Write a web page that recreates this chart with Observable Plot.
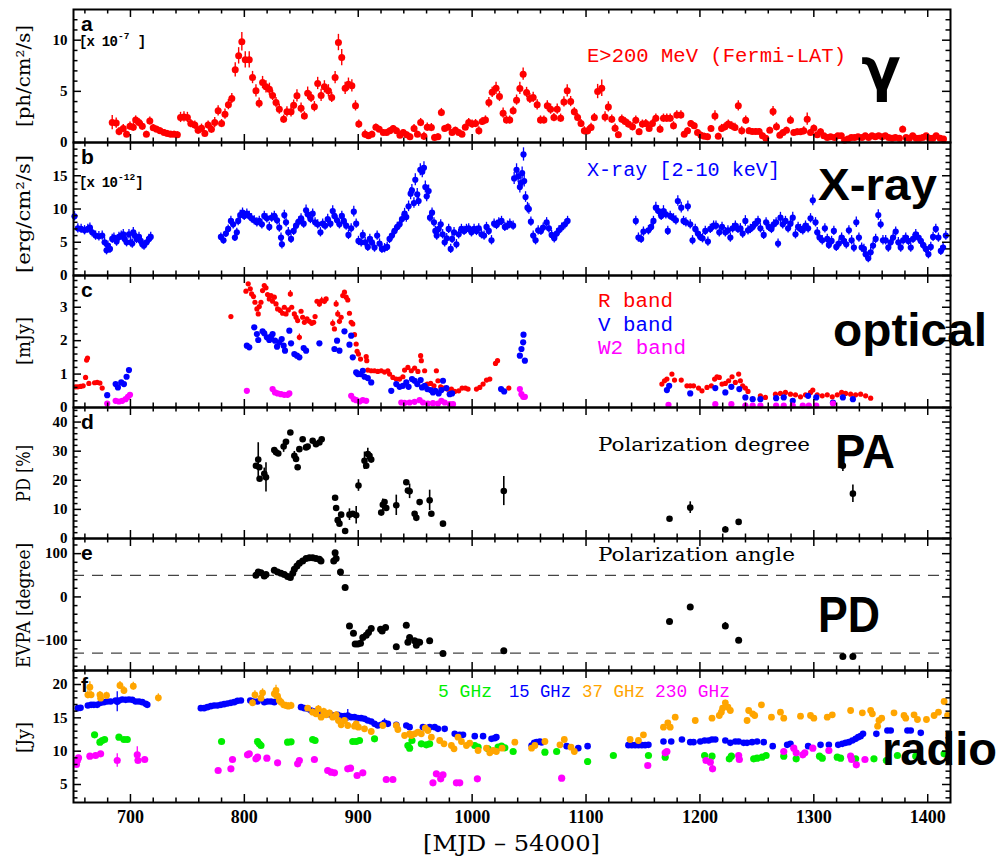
<!DOCTYPE html>
<html>
<head>
<meta charset="utf-8">
<script src="https://cdn.jsdelivr.net/npm/d3@7"></script>
<script src="https://cdn.jsdelivr.net/npm/@observablehq/plot@0.6"></script>
<style>
  html, body { margin: 0; padding: 0; background: #fff; }
  #page { position: relative; width: 999px; height: 857px; overflow: hidden; background: #fff; }
  #page svg.panel { position: absolute; left: 0; overflow: visible; }
  #labels { position: absolute; left: 0; top: 0; pointer-events: none; overflow: visible; }
</style>
</head>
<body>
<div id="page"></div>
<script>
// ---------------------------------------------------------------------------
// Multiwavelength light curves, MJD - 54000.  Each entry: [day, value, error]
// ---------------------------------------------------------------------------

// (a) Fermi-LAT E>200 MeV flux, 1e-7 ph/cm2/s
const gamma = [
  [684,1.95,.7],[687.5,1.9,.5],[690,1.07,.4],[693.7,1.37,.4],[696.6,.8,.3],[699.6,1.6,.4],[702.5,1.5,.4],[704.6,2.2,.4],
  [707.5,1.95,.4],[710.4,1.6,.4],[714,.8,.3],[717,2.1,.4],[720,1.45,.3],[723,1.3,.3],[726,1.15,.3],[729.5,.98,.3],
  [732.4,.88,.3],[735.4,.8,.3],[738.3,.8,.3],[741.2,.75,.3],[744,2.45,.5],[747,2.5,.5],[750,2.45,.5],[753,1.85,.4],
  [756.5,1.7,.4],[759.4,1.2,.4],[762.4,1.4,.4],[765.3,.88,.3],[768.2,1.7,.4],[771.1,1.3,.4],[774,1.95,.5],[777,3.1,.5],
  [780,1.85,.4],[783,2.77,.5],[786,3.7,.5],[789,4.3,.5],[792,7.1,.7],[795,8.47,.8],[797.8,9.84,.9],[800.8,8.08,.8],
  [804.3,8.08,.8],[807.2,6.35,.6],[810.2,5.05,.6],[813,3.84,.5],[816,5.86,.6],[819,5.44,.6],[822,5.2,.6],[824.8,4.6,.5],
  [827.8,3.9,.5],[830.7,3.26,.5],[834.5,2.28,.4],[837.4,3.0,.5],[841,3.0,.5],[843.3,3.65,.5],[846.2,4.56,.6],[849.8,3.35,.5],
  [852.7,2.6,.4],[855.6,4.82,.6],[858.6,4.4,.5],[861.5,3.5,.5],[864.4,5.77,.6],[867.4,4.6,.6],[870.3,5.44,.6],[873.8,5.05,.6],
  [876.7,4.4,.5],[879.7,6.35,.6],[882.6,9.77,.8],[885.5,8.3,.8],[888.5,5.3,.6],[891.4,5.7,.6],[894.4,5.54,.6],[897.6,3.58,.5],
  [900.5,1.8,.4],[906,.81,.4],[909,.65,.3],[912,.81,.3],[915.5,1.5,.3],[918.4,1.3,.3],[922,.98,.3],[924.9,.98,.3],
  [927.8,1.14,.3],[930.7,1.37,.3],[933.6,1.14,.3],[936.6,.72,.3],[939.5,.98,.3],[942.5,.75,.3],[945.4,.55,.3],[949,1.37,.4],
  [952,.81,.3],[954.8,1.95,.4],[957.7,.6,.4],[960.6,1.5,.4],[964.2,1.46,.4],[967,.49,.3],[970,.55,.3],[973,2.93,.4],
  [975.9,1.37,.3],[978.8,1.5,.3],[982.4,.98,.3],[985.3,1.2,.3],[988.2,.98,.3],[991.1,.81,.3],[994,1.5,.3],[997,1.95,.4],
  [1000,1.8,.4],[1003,1.85,.4],[1005.9,1.14,.4],[1008.8,2.05,.4],[1011.7,2.2,.4],[1014.7,3.9,.5],[1017.6,4.9,.5],[1021,5.3,.6],
  [1024,4.5,.5],[1027.2,2.87,.5],[1030.1,2.2,.4],[1033,2.2,.4],[1036,3.1,.4],[1039,4.14,.5],[1041.9,5.28,.6],[1044.8,6.68,.6],
  [1047.8,4.89,.5],[1050.7,4.3,.5],[1053.6,4.4,.5],[1057.1,3.68,.5],[1060,2.2,.4],[1063,2.2,.4],[1066,3.58,.5],[1068.9,3.26,.5],
  [1071.8,2.44,.4],[1074.7,3.26,.5],[1077.7,2.38,.4],[1080.6,3.97,.5],[1083.5,5.05,.6],[1086.5,4.0,.5],[1089.7,3.0,.4],[1092.6,2.44,.4],
  [1095.6,1.86,.4],[1098.5,1.14,.4],[1101.4,1.14,.4],[1104.4,1.47,.4],[1107.3,2.44,.4],[1110.2,4.98,.7],[1113.8,5.3,.8],[1116.7,2.5,.5],
  [1119.6,3.48,.5],[1122.6,2.28,.4],[1125.5,1.4,.4],[1128.4,.75,.3],[1131.4,2.28,.4],[1134.3,2.05,.4],[1137.2,1.8,.4],[1140.8,1.53,.4],
  [1143.7,2.18,.4],[1146.6,1.04,.3],[1149.5,1.8,.4],[1152.5,1.86,.4],[1155.4,1.37,.3],[1158.3,1.86,.4],[1161.3,2.38,.4],[1165,1.3,.4],
  [1168,2.38,.4],[1170.9,2.38,.4],[1173.9,2.38,.4],[1176.8,1.63,.4],[1179.7,2.7,.4],[1183.3,2.7,.4],[1186.2,.81,.3],[1189.1,1.14,.3],
  [1192,1.86,.3],[1195,1.63,.3],[1197.9,.98,.3],[1200.9,.72,.3],[1203.8,.6,.3],[1206.7,.55,.3],[1209.7,1.37,.3],[1213.2,2.6,.5],
  [1216.1,.6,.3],[1219,1.37,.4],[1222,1.53,.4],[1224.9,1.8,.4],[1227.9,1.63,.4],[1230.8,1.47,.4],[1233.7,3.58,.5],[1236.7,1.14,.4],
  [1240.2,2.18,.4],[1243.1,1.14,.3],[1246,1.07,.3],[1249,1.07,.3],[1252,1.07,.3],[1254.9,.65,.3],[1257.8,.42,.2],[1261.3,1.2,.3],
  [1264.2,3.03,.5],[1267.2,1.53,.4],[1270.1,.72,.3],[1273,.98,.3],[1276,1.2,.3],[1279.5,2.18,.4],[1282.4,.98,.3],[1285.4,1.04,.3],
  [1288.3,1.04,.3],[1291.2,1.14,.4],[1294.2,2.28,.6],[1297.1,.98,.3],[1300,1.4,.3],[1303,.75,.2],[1305.9,1.04,.3],[1308.8,.65,.2],
  [1311.8,.49,.2],[1314.7,.55,.2],[1318.2,.49,.2],[1321.1,.65,.2],[1324.1,.65,.2],[1327,.23,.2],[1329.9,.33,.2],[1332.9,.49,.2],
  [1335.8,.49,.2],[1338.8,.55,.2],[1342.3,.49,.2],[1345.2,.65,.2],[1348.1,.49,.2],[1351.1,.65,.2],[1354,.55,.2],[1356.9,.65,.2],
  [1359.9,.55,.2],[1362.8,.65,.2],[1365.7,.49,.2],[1368.7,.42,.2],[1371.6,.49,.2],[1375.1,.42,.2],[1378,1.3,.3],[1381,.49,.2],
  [1383.9,.42,.2],[1386.8,.65,.2],[1389.8,.42,.2],[1392.7,.42,.2],[1395.6,.49,.2],[1398.6,.65,.2],[1401.5,.42,.2],[1404.5,.42,.2],
  [1407.4,.65,.2],[1410.9,.42,.2],[1413.9,.33,.2]
];

// (b) X-ray 2-10 keV flux, 1e-12 erg/cm2/s
const xray = [
  [650.9,8.9,.7],[653.8,7.1,.7],[656.7,7.0,.7],[659.7,6.8,.7],[662.6,7.0,.7],[664.4,7.2,.7],[666.4,6.5,.7],[669.4,6.0,.7],
  [672.3,5.9,.7],[675.2,6.0,.7],[677.3,5.0,.7],[679.0,3.8,.7],[680.2,4.5,.7],[682.0,4.0,.7],[684.0,5.5,.7],[685.5,5.7,.7],
  [687.8,5.1,.7],[689.9,5.8,.7],[691.9,6.0,.7],[693.7,6.2,.7],[694.9,5.5,.7],[696.6,5.0,.7],[698.7,6.2,.7],[700.2,5.0,.7],
  [701.6,4.8,.7],[702.5,6.5,.7],[703.7,6.0,.7],[705.4,5.5,.7],[707.5,5.8,.7],[709.0,5.2,.7],[710.4,4.7,.7],[711.9,4.5,.7],
  [714.2,5.0,.7],[716.3,5.5,.7],[717.8,5.8,.7],
  [779.4,5.8,.6],[781.7,5.3,.6],[783.8,6.3,.6],[785.8,7.0,.6],[788.2,8.2,.7],[790.2,7.7,.7],[791.7,5.7,.6],[793.4,6.5,.6],
  [794.6,8.2,.7],[796.4,9.1,.7],[798.4,9.45,.7],[799.9,8.96,.7],[802.2,9.3,.7],[804.3,8.96,.7],[806.3,8.6,.7],[808.7,8.3,.7],
  [811.0,8.0,.7],[813.1,8.2,.7],[815.4,7.7,.7],[817.5,8.96,.7],[819.8,8.6,.7],[821.9,7.3,.7],[824.0,8.7,.7],[826.3,8.96,.7],
  [828.7,8.3,.7],[830.7,7.2,.7],[832.2,5.7,.7],[833.0,4.7,.7],[835.1,9.1,.7],[836.6,8.0,.7],[838.6,6.5,.7],[841.0,5.5,.7],
  [843.3,6.7,.7],[845.4,7.5,.7],[847.7,8.1,.7],[849.8,8.6,.7],[852.1,7.8,.7],[854.2,9.8,.8],[855.6,9.2,.7],[858.0,8.5,.7],
  [860.0,9.3,.7],[862.1,8.0,.7],[864.4,7.7,.7],[866.8,6.5,.7],[868.8,7.8,.7],[870.9,7.5,.7],[873.2,8.5,.7],[875.6,7.8,.7],
  [877.6,9.7,.8],[879.1,8.96,.7],[881.4,8.3,.7],[883.5,7.7,.7],[885.6,8.96,.7],[887.3,8.2,.7],[889.4,7.5,.7],[891.4,6.1,.7],
  [893.8,7.1,.7],[896.1,9.6,.8],[898.2,7.8,.7],[900.2,5.2,.7],[902.6,5.0,.7],[904.0,6.1,.7],[906.1,5.0,.7],[908.4,4.3,.7],
  [910.2,5.5,.7],[912.0,5.0,.7],[914.3,4.2,.7],[916.6,6.0,.7],[918.7,4.8,.7],[920.8,4.0,.7],[923.1,4.1,.7],[925.4,4.3,.7],
  [927.5,5.5,.7],[929.6,6.0,.7],[931.9,6.7,.7],[934.3,7.3,.7],[936.3,7.7,.7],[938.4,8.5,.7],[940.7,9.3,.8],[942.2,8.8,.8],
  [944.2,10.4,.8],[946.0,12.3,.9],[947.1,12.8,.9],[948.9,10.9,.8],[950.1,14.4,.9],[951.8,12.2,.9],[953.0,11.2,.8],[954.5,15.9,.9],
  [956.2,15.6,.9],[957.7,16.2,.9],[958.9,13.3,.9],[960.1,11.9,.8],[961.8,12.7,.9],[963.0,8.7,.7],[964.8,9.45,.7],[966.5,8.0,.7],
  [967.7,6.7,.7],[968.9,6.0,.7],[970.6,7.0,.7],[972.4,7.7,.7],[974.1,6.2,.7],[975.9,5.0,.7],[977.7,5.6,.7],[979.4,7.0,.7],
  [981.2,4.0,.7],[982.4,5.5,.7],[984.1,6.5,.7],[986.2,4.7,.7],[988.2,6.2,.7],[990.6,7.0,.7],[992.9,6.7,.7],[995.0,7.0,.7],
  [997.0,7.1,.7],[999.4,6.5,.7],[1001.7,7.0,.7],[1003.8,6.7,.7],[1005.8,7.1,.7],[1008.2,6.2,.7],[1010.5,6.0,.7],[1012.6,7.3,.7],
  [1014.6,6.7,.7],[1017.0,5.3,.7],[1019.3,7.8,.7],[1021.4,7.6,.7],[1023.4,8.0,.7],[1025.8,8.2,.7],[1028.7,7.3,.7],[1031.0,7.5,.7],
  [1033.1,7.8,.7],[1036.0,7.5,.7],[1036.9,14.6,.9],[1039.0,15.9,.9],[1040.4,14.9,.9],[1041.9,13.3,.9],[1042.8,13.9,.9],[1043.9,15.4,.9],
  [1045.1,18.2,1.0],[1045.7,14.2,.9],[1046.9,11.8,.8],[1048.6,10.2,.8],[1049.8,10.0,.8],[1051.6,8.1,.7],[1053.6,6.0,.7],[1055.7,5.3,.7],
  [1058.0,6.8,.7],[1060.4,6.7,.7],[1062.4,7.2,.7],[1065.4,8.0,.7],[1067.4,7.1,.7],[1069.8,6.1,.7],[1072.1,5.6,.7],[1074.2,6.3,.7],
  [1076.2,6.8,.7],[1078.6,7.2,.7],[1081.5,7.7,.7],[1083.8,8.2,.7],
  [1143.7,8.2,.7],[1146.0,5.7,.7],[1148.4,5.5,.7],[1150.4,6.6,.7],[1154.8,6.8,.7],[1157.2,7.3,.7],[1159.2,8.2,.7],[1161.3,10.2,.8],
  [1163.6,9.7,.8],[1166.0,8.96,.7],[1168.0,9.7,.8],[1170.1,9.2,.7],[1171.8,6.7,.7],[1173.9,8.96,.7],[1176.8,8.6,.7],[1178.9,8.3,.7],
  [1180.6,11.2,.8],[1183.6,10.2,.8],[1185.6,8.2,.7],[1187.7,8.0,.7],[1189.4,10.4,.8],[1191.5,7.7,.7],[1193.5,5.3,.7],[1195.9,7.0,.7],
  [1198.2,6.3,.7],[1200.3,5.8,.7],[1202.3,5.6,.7],[1204.7,6.7,.7],[1207.0,5.1,.7],[1209.1,7.0,.7],[1212.0,7.5,.7],[1214.1,7.5,.7],
  [1217.0,6.5,.7],[1219.4,7.3,.7],[1222.3,6.5,.7],[1224.6,6.8,.7],[1226.7,5.7,.7],[1228.7,7.1,.7],[1231.1,7.5,.7],[1233.4,7.0,.7],
  [1235.5,7.1,.7],[1237.5,6.3,.7],[1239.9,8.2,.8],[1242.2,6.8,.7],[1244.3,7.0,.7],[1246.3,7.3,.7],[1248.7,7.8,.7],[1251.0,8.2,.7],
  [1253.1,7.1,.7],[1256.0,6.1,.7],[1258.1,8.0,.7],[1260.4,7.3,.7],[1262.8,7.0,.7],[1264.8,7.7,.7],[1266.9,8.0,.7],[1268.6,4.8,.7],
  [1270.7,8.7,.8],[1272.7,7.7,.7],[1275.1,8.2,.7],[1277.4,7.1,.7],[1279.5,7.8,.7],[1281.5,8.7,.8],[1283.9,6.2,.7],[1286.2,7.3,.7],
  [1288.3,7.0,.7],[1290.3,6.8,.7],[1292.7,7.5,.7],[1295.0,7.1,.7],[1297.1,8.6,.7],[1299.1,11.3,.8],[1301.5,8.0,.7],[1303.0,6.5,.7],
  [1305.0,5.7,.7],[1307.4,5.3,.7],[1309.7,7.1,.7],[1311.8,5.5,.7],[1313.2,4.6,.7],[1315.6,5.2,.7],[1317.6,6.7,.7],[1319.7,4.3,.7],
  [1322.0,4.8,.7],[1324.4,5.7,.7],[1326.4,5.2,.7],[1328.5,4.7,.7],[1330.8,6.8,.7],[1333.2,5.3,.7],[1335.2,4.2,.7],[1337.3,8.0,.8],
  [1339.6,5.7,.7],[1342.0,4.2,.7],[1344.0,4.0,.7],[1345.5,3.2,.7],[1347.8,2.6,.7],[1349.9,3.5,.7],[1352.0,4.5,.7],[1354.3,5.5,.7],
  [1356.6,9.1,.8],[1358.7,7.7,.7],[1360.7,5.3,.7],[1363.1,5.3,.7],[1365.4,4.2,.7],[1367.5,5.0,.7],[1369.6,5.7,.7],[1371.9,6.6,.7],
  [1374.2,5.0,.7],[1376.3,4.2,.7],[1378.4,5.3,.7],[1380.7,5.7,.7],[1383.0,5.2,.7],[1385.1,4.2,.7],[1387.1,5.5,.7],[1389.5,6.2,.7],
  [1391.8,5.7,.7],[1393.9,5.2,.7],[1395.9,4.6,.7],[1398.3,4.0,.7],[1400.6,3.2,.7],[1402.7,4.3,.7],[1404.7,5.8,.7],[1407.1,7.0,.7],
  [1409.4,5.7,.7],[1411.5,3.7,.7],[1413.5,4.2,.7],[1415.9,6.0,.7]
];

// (c) optical flux densities, mJy
const rBand = [
  [651.8,.62,0],[653.8,.62,0],[656.2,.63,0],[658.5,.65,0],[660.6,.9,0],[661.5,1.42,0],[662.3,1.48,0],[663.5,.72,0],
  [668.5,.74,0],[670.8,.75,0],[673.2,.73,0],[675.2,.58,0],[788.2,2.72,0],
  [801.4,3.48,0],[803.4,3.7,0],[805.2,3.55,0],[806.4,3.4,0],[808.1,3.32,0],[809.3,3.15,0],[811.0,2.95,0],[812.2,2.8,0],
  [813.1,3.02,0],[814.6,3.15,0],[816.0,3.5,0],[817.5,3.65,0],[819.0,3.58,0],[820.4,3.38,0],[821.9,3.25,0],[823.4,3.35,0],
  [824.8,3.18,0],[826.3,3.3,0],[827.8,3.1,0],[829.2,2.95,0],[831.6,2.9,.08],[833.6,2.82,0],[835.1,3.0,0],[836.6,2.8,0],
  [838.6,2.92,0],[840.4,3.4,.1],[841.6,3.0,0],[843.9,2.8,0],[845.4,2.7,0],[846.8,2.6,0],[848.3,2.1,.1],[849.8,2.88,0],
  [851.2,2.7,0],[852.7,2.55,0],[855.0,2.65,0],[857.1,2.58,0],[859.2,2.52,0],[860.9,2.55,0],[862.1,2.72,0],[863.8,3.18,0],
  [865.9,3.1,.1],[867.9,3.2,.1],[870.3,3.18,.1],[871.8,3.25,0],[877.6,2.52,.1],[879.1,2.35,0],[880.6,3.1,.1],[882.0,2.8,.1],
  [883.5,2.58,.1],[885.0,2.7,0],[886.4,3.35,0],[887.9,3.45,0],[889.4,3.3,0],[890.8,3.22,0],[892.3,2.82,0],[893.8,2.55,0],
  [895.2,2.5,0],[896.7,2.18,0],[898.2,1.9,0],[899.0,1.68,0],[900.2,1.6,0],[902.0,1.45,0],[907.0,1.52,0],[907.5,1.4,0],
  [908.4,1.12,0],[911.4,1.1,0],[914.3,1.1,0],[917.2,1.08,0],[920.2,1.1,0],[923.1,1.06,0],[926.0,1.1,0],[927.5,1.0,0],
  [930.4,.9,0],[933.4,.85,0],[936.3,.85,0],[939.2,.92,0],[940.7,1.12,0],[943.6,1.2,0],[946.6,1.1,0],[949.5,1.18,0],
  [952.4,1.08,0],[954.8,1.55,0],[955.4,1.4,0],[958.3,1.1,0],[960.6,.7,0],[963.6,.72,0],[966.5,.65,0],[968.6,1.1,0],
  [970.0,.8,0],[972.4,.62,0],[975.3,.58,0],[978.3,.55,0],[981.8,.55,0],[984.7,.48,0],[988.2,.5,0],[991.2,.58,0],
  [994.1,.58,0],[996.4,.55,0],[1003.8,.55,0],[1006.7,.6,0],[1009.6,.7,0],[1012.6,.82,0],[1015.5,.85,0],[1020.5,1.32,0],
  [1022.3,1.4,0],[1032.2,.58,0],
  [1166.6,.7,0],[1168.9,.8,0],[1171.0,.85,0],[1175.4,1.0,0],[1177.7,.82,0],[1183.6,.82,0],[1188.6,.65,0],[1191.5,.65,0],
  [1194.4,.65,0],[1198.8,.58,0],[1201.8,.5,0],[1206.2,.6,0],[1210.0,.65,0],[1212.9,.85,0],[1215.0,.92,0],[1217.0,.9,0],
  [1219.4,.7,0],[1222.3,.72,0],[1225.2,.8,0],[1228.2,.92,0],[1231.1,.75,0],[1234.0,1.0,0],[1235.5,.8,0],[1237.5,.65,0],
  [1239.9,.58,0],[1242.2,.48,0],[1253.1,.35,0],[1257.5,.3,0],[1266.3,.4,0],[1270.7,.42,0],[1275.1,.45,0],[1279.5,.4,0],
  [1283.9,.38,0],[1288.3,.32,0],[1292.7,.38,0],[1297.1,.45,0],[1299.1,.52,0],[1303.0,.38,0],[1307.4,.35,0],[1311.8,.38,0],
  [1316.2,.32,0],[1320.6,.38,0],[1324.4,.45,0],[1327.9,.42,0],[1332.3,.4,0],[1336.7,.38,0],[1341.1,.4,0],[1345.5,.35,0],
  [1349.9,.28,0]
];
const vBand = [
  [679.6,.37,0],[687.0,.7,0],[689.0,.6,0],[691.9,.75,0],[694.3,.7,0],[696.6,.92,0],[698.7,1.12,0],
  [802.2,1.85,0],[804.3,1.8,0],[808.7,2.4,0],[811.0,2.2,0],[812.2,2.02,0],[816.0,2.28,0],[817.5,2.22,0],[819.8,2.1,0],
  [821.9,2.02,0],[823.4,2.12,0],[824.8,2.2,0],[826.9,2.0,0],[828.7,1.82,0],[830.7,1.95,0],[832.8,2.05,0],[834.5,1.85,0],
  [835.7,1.7,0],[839.5,2.3,0],[841.0,1.92,0],[843.9,1.6,0],[846.2,1.55,0],[848.3,1.5,0],[852.1,1.78,0],[854.2,1.7,0],
  [865.9,1.92,0],[879.1,1.75,0],[881.4,2.0,0],[883.5,1.7,0],[887.9,2.28,0],[892.3,1.88,0],[893.8,2.15,0],[895.2,1.5,0],
  [898.2,1.05,0],[899.6,1.0,0],[902.0,1.0,0],[904.0,1.1,0],[905.5,.92,0],[908.4,.88,0],[911.4,.75,0],[929.0,.5,0],
  [933.4,.7,0],[936.3,.62,0],[939.2,.65,0],[942.2,.75,0],[944.2,.62,0],[947.2,.85,0],[949.5,.8,0],[951.8,.7,0],
  [954.8,.82,0],[956.0,.6,0],[958.3,.65,0],[960.6,.55,0],[963.6,.52,0],[965.6,.45,0],[967.7,.5,0],[970.6,.42,0],
  [973.0,.52,0],[974.4,.8,0],[977.4,.58,0],[980.3,.4,0],[982.4,.42,0],[1025.4,.55,0],[1028.1,.48,0],
  [1041.9,1.55,0],[1043.3,1.75,0],[1044.8,1.95,0],[1045.1,2.18,0],[1046.3,1.4,0],
  [1171.0,.52,0],[1173.0,.65,0],[1191.5,.42,0],[1213.5,.58,0],[1222.3,.45,0],[1227.6,.62,0],[1234.6,.55,0],[1239.9,.3,0],
  [1246.3,.25,0],[1253.1,.25,0],[1266.9,.28,0],[1273.6,.3,0],[1281.5,.2,0],[1295.0,.35,0],[1302.1,.3,0],[1316.8,.15,0],
  [1325.5,.3,0],[1334.3,.25,0]
];
const w2Band = [
  [679.6,.12,0],[687.0,.2,0],[689.9,.18,0],[692.8,.2,0],[695.8,.25,0],[697.8,.32,0],[699.6,.38,0],
  [802.2,.5,0],[824.8,.55,0],[826.9,.45,0],[829.2,.42,0],[832.2,.4,0],[835.1,.38,0],[838.0,.38,0],[839.5,.42,0],
  [893.8,.35,0],[896.1,.25,0],[898.2,.22,0],[901.1,.18,0],[904.0,.22,0],[907.0,.2,0],
  [937.8,.15,0],[940.7,.14,0],[945.1,.15,0],[949.5,.17,0],[953.9,.22,0],[956.8,.15,0],[961.2,.12,0],[965.6,.13,0],
  [970.0,.12,0],[973.0,.2,0],[975.9,.15,0],[980.3,.1,0],[983.2,.1,0],
  [1041.9,.55,0],[1043.3,.4,0],[1044.8,.32,0],[1046.3,.32,0],
  [1172.4,.08,0],[1213.5,.1,0],[1227.6,.1,0],[1239.9,.06,0],[1246.3,.06,0],[1253.1,.06,0],[1266.9,.06,0],[1273.6,.06,0],
  [1281.5,.06,0],[1290.3,.06,0],[1295.6,.06,0],[1302.1,.06,0],[1316.8,.12,0]
];

// (d) optical polarization degree, %
const polDegree = [
  [810.2,25.0,0],[812.2,27.1,5.8],[813.1,24.5,0],[813.4,20.5,0],[817.5,22.2,2],[819.0,21.0,5],[826.3,30.4,0],[827.8,29.6,0],
  [829.8,29.2,0],[834.5,31.6,2],[836.6,33.2,0],[840.4,36.4,0],[843.9,28.4,1.5],[845.4,27.3,0],[846.8,24.5,0],[848.3,30.7,0],
  [851.2,34.1,0],[854.2,31.3,0],[855.6,31.6,0],[860.0,33.6,0],[862.9,32.4,0],[865.9,33.0,0],[867.9,34.1,0],
  [879.7,14.0,0],[880.6,10.5,0],[882.0,6.3,0],[883.5,5.1,0],[885.0,8.2,0],[888.5,2.6,0],[892.3,8.2,2],[895.2,8.5,0],
  [898.2,8.0,3],[900.2,18.2,2],[905.5,26.7,3],[907.0,25.0,0],[908.4,29.0,2],[909.9,28.4,0],[911.4,27.1,0],
  [920.2,8.9,0],[921.6,11.6,2],[923.1,12.5,0],[924.6,10.5,0],[933.4,11.4,3.5],[942.2,19.3,0],[943.6,16.5,0],[945.1,16.2,2.5],
  [949.5,8.5,0],[951.0,7.1,0],[953.9,12.5,0],[962.7,13.1,3.5],[964.2,8.5,0],[974.4,5.1,0],
  [1027.8,16.3,5],[1173.3,6.8,0],[1191.5,10.6,2],[1222.3,3.1,1],[1234.0,5.7,0],[1325.5,25.0,2],[1334.3,15.4,3]
];

// (e) electric-vector position angle, degrees
const polAngle = [
  [810.2,50,0],[812.2,57.7,0],[814.6,56,0],[817.5,48.5,0],[819.0,52,0],[826.3,61.5,0],[829.2,57.7,0],[832.2,54.6,0],
  [835.1,52,0],[838.0,47,0],[840.4,44.6,0],[842.5,54.6,0],[843.9,64,0],[846.2,71.5,0],[848.3,77.7,0],[851.2,83,0],
  [854.2,88.5,0],[857.1,90.8,0],[860.0,90.8,0],[862.9,88.5,0],[865.9,87,0],[867.3,83,0],
  [878.5,83,0],[879.7,102,0],[880.6,88.5,0],[884.4,57.7,0],[888.5,21.5,5],[892.3,-67,0],[895.8,-83.8,0],[897.3,-109,0],
  [899.6,-109,0],[902.0,-107,0],[904.0,-94,0],[907.0,-88.5,0],[909.0,-82.3,0],[911.4,-73,0],[919.6,-74.6,0],[921.0,-78.5,0],
  [924.0,-70.8,0],[933.4,-115,0],[942.2,-65.4,0],[943.6,-105,0],[945.1,-94,0],[949.5,-101.5,0],[951.0,-111.5,0],[952.4,-104,0],
  [953.9,-105,0],[962.7,-101.5,0],[974.4,-130.8,0],
  [1027.8,-124.6,0],[1173.3,-57,0],[1191.5,-23,0],[1222.3,-67,8],[1234.0,-100,0],[1325.5,-137.7,0],[1334.3,-137.7,0]
];
// reference position angles marked with dashed lines
const angleRefs = [50, -130];

// (f) radio flux densities, Jy
const radio15 = [
  [653.8,16.45,0],[656.2,16.5,0],[662.6,16.85,0],[665.5,16.95,0],[667.9,16.95,0],[670.8,16.95,0],[673.8,17.25,0],[676.7,17.35,0],
  [679.6,17.45,0],[682.6,17.45,0],[687.0,17.6,0],[688.4,17.4,1.5],[689.9,17.6,0],[692.8,17.75,0],[695.8,17.7,0],[698.7,17.75,0],
  [701.6,17.7,0],[704.6,17.45,0],[707.5,17.45,0],[710.4,17.35,0],[713.4,17.1,0],[714.8,16.95,0],
  [761.8,16.45,0],[764.7,16.45,0],[767.6,16.6,0],[770.6,16.75,0],[773.5,16.85,0],[776.4,16.85,0],[779.4,16.95,0],[782.3,17.05,0],
  [785.2,17.15,0],[788.2,17.25,0],[791.1,17.35,0],[794.0,17.55,0],[797.0,17.6,0],[805.2,17.6,0],[808.1,17.45,0],[811.6,17.45,0],
  [817.5,17.35,0],[820.4,17.45,0],[823.4,17.45,0],[826.3,17.35,0],
  [849.8,16.6,0],[852.7,16.45,0],[855.6,16.35,0],[858.6,16.1,0],[861.5,15.95,0],[864.4,15.85,0],[867.4,15.75,0],[870.3,15.6,0],
  [873.2,15.55,0],[876.2,15.45,0],[879.1,15.35,0],[882.0,15.45,0],[885.0,15.25,0],[887.9,15.25,0],[890.8,15.35,.9],[893.8,15.1,0],
  [896.7,15.1,0],[899.6,14.95,0],[902.6,14.95,0],[905.5,14.85,0],[908.4,14.6,0],[911.4,14.45,0],[914.3,14.1,0],[917.2,13.85,0],
  [920.2,13.95,0],[923.1,14.25,.6],[926.0,14.1,0],[933.4,13.95,0],[942.2,13.85,0],[945.1,13.6,0],[956.8,13.6,0],[959.8,13.45,0],
  [962.7,13.6,0],[967.1,13.6,0],[970.0,13.35,0],[975.9,13.35,0],[984.7,12.6,0],[989.1,12.45,0],[992.0,12.45,0],[1002.3,12.25,0],
  [1009.6,12.25,0],[1017.0,11.85,0],[1019.9,11.95,0],[1021.3,12.1,0],
  [1052.2,10.85,0],[1054.5,11.25,0],[1056.6,11.35,0],[1059.5,11.45,0],[1061.0,11.3,0],[1083.0,10.75,0],[1093.2,10.45,0],[1101.4,10.75,0],
  [1137.2,10.9,0],[1140.2,10.9,0],[1143.1,10.9,0],[1146.0,10.9,0],[1149.0,10.9,0],[1151.9,10.9,0],[1154.8,10.95,0],
  [1168.0,11.45,0],[1174.8,11.45,0],[1184.2,11.75,0],[1191.5,11.35,0],[1194.4,11.35,0],[1200.3,11.45,0],[1204.1,11.6,0],[1207.6,11.6,0],
  [1210.6,11.75,0],[1213.5,11.75,0],[1222.3,11.6,0],[1226.7,11.25,0],[1231.1,11.45,0],[1234.0,11.45,0],[1238.4,11.25,0],[1241.4,11.25,0],
  [1245.8,11.35,0],[1250.2,11.45,0],[1256.0,11.35,0],[1263.9,10.75,0],[1276.6,10.95,0],[1279.5,11.1,0],[1295.0,10.75,0],[1305.9,10.95,0],
  [1313.2,10.95,0],[1321.4,10.95,0],[1325.0,11.1,0],[1327.9,11.25,0],[1330.8,11.35,0],[1333.8,11.6,0],[1336.7,11.85,0],[1339.0,12.1,0],
  [1341.1,12.25,0],[1343.2,12.6,0],[1354.9,12.6,0],[1364.6,13.1,0],[1367.5,13.1,0],[1382.2,13.1,0],[1385.1,13.1,0],[1393.9,12.75,0]
];
const radio37 = [
  [662.6,18.45,.6],[664.4,19.6,.8],[665.5,18.45,.5],[673.2,18.45,.5],[673.8,17.95,.4],[679.0,18.35,.5],[690.8,19.85,.6],[694.3,19.1,.6],
  [702.5,19.75,.6],[724.5,18.0,.6],
  [807.2,17.25,.5],[809.3,18.45,.6],[814.6,17.95,.5],[816.0,18.75,.6],[826.3,18.6,.8],[827.8,19.1,.8],[829.2,18.25,.6],[830.7,17.6,.6],
  [832.2,17.35,.5],[834.5,16.95,.5],[836.6,16.85,.5],[838.6,16.75,.5],[841.0,16.85,.5],
  [855.6,16.45,.4],[860.0,15.85,.5],[862.9,15.6,.5],[865.0,16.35,.5],[867.4,15.1,.5],[869.7,15.95,.5],[871.8,15.45,.4],[874.7,15.75,.4],
  [877.6,15.1,.4],[880.6,15.45,.5],[882.6,14.6,.4],[885.0,13.95,.4],[887.9,14.6,.4],[890.8,13.85,.4],[896.7,13.75,.4],[898.2,14.1,.4],
  [900.2,13.6,.4],[905.5,13.35,.4],[911.4,12.95,.4],[921.6,13.85,.4],[933.4,13.85,.4],[934.8,13.25,.4],[940.7,12.35,.4],[945.1,12.6,.5],
  [946.6,12.35,.4],[949.5,12.6,.4],[952.4,12.85,.4],[955.4,12.6,.4],[958.9,13.45,.5],[961.2,13.1,.4],[964.2,12.1,.4],[971.5,11.6,.4],
  [975.3,11.1,.4],[981.8,10.85,.4],[984.1,10.35,.4],[987.6,12.1,.4],[990.6,11.45,.4],[995.0,10.85,.4],[997.9,11.2,.4],[1005.2,10.1,.4],
  [1012.6,10.45,.4],[1015.5,9.75,.4],[1018.5,10.1,.4],[1021.3,9.95,.3],[1026.3,10.45,.3],[1037.5,11.35,.3],[1052.2,10.45,.3],[1055.1,10.85,.3],
  [1063.9,11.45,.3],[1077.1,10.95,.3],[1080.9,11.75,.3],[1086.8,10.6,.3],[1089.7,9.95,.3],[1138.7,11.75,.3],[1146.0,11.6,.3],[1150.4,12.45,.3],
  [1168.0,13.6,.3],[1171.8,14.25,.3],[1173.9,13.6,.3],[1178.3,15.1,.3],[1195.9,14.6,.3],[1210.6,14.95,.3],[1217.0,15.35,.3],[1218.8,15.85,.4],
  [1219.9,16.45,.4],[1222.3,17.25,.4],[1224.6,16.6,.4],[1226.7,16.1,.3],[1241.4,14.6,.3],[1242.8,16.1,.3],[1246.3,15.6,.3],[1248.1,15.35,.3],
  [1254.0,16.95,.3],[1262.8,15.1,.3],[1270.7,15.85,.3],[1273.6,14.95,.3],[1288.3,15.25,.3],[1297.1,15.35,.3],[1300.0,14.95,.3],[1311.8,15.1,.3],
  [1316.2,15.45,.3],[1332.3,16.1,.3],[1342.6,15.75,.3],[1349.9,16.1,.3],[1351.4,15.6,.3],[1356.0,13.75,.3],[1357.2,14.6,.3],[1359.6,14.95,.3],
  [1370.4,15.75,.3],[1379.2,15.35,.3],[1380.7,14.95,.3],[1388.0,15.45,.3],[1391.0,14.75,.3],[1398.9,14.75,.3],[1405.6,15.35,.3],[1409.4,15.85,.3],
  [1414.4,17.45,.4],[1417.4,15.35,.3]
];
const radio5 = [
  [668.5,12.45,0],[673.2,11.35,0],[675.2,11.6,0],[677.3,11.75,0],[689.9,12.1,0],[694.3,11.75,0],[697.2,11.75,0],
  [780.0,11.45,0],[811.6,11.45,0],[813.1,11.1,0],[814.6,10.85,0],[838.0,11.35,0],[841.0,11.4,0],[860.0,11.75,0],[862.1,11.6,0],
  [895.2,11.45,0],[898.2,11.45,0],[901.1,11.6,0],[914.3,11.85,0],[943.6,10.85,0],[945.1,10.45,0],[947.2,11.6,0],[955.4,11.1,0],
  [959.8,10.95,0],[962.7,11.1,0],[1002.3,10.85,0],[1005.2,10.6,0],[1014.0,10.35,0],[1022.8,10.6,0],[1025.8,10.75,0],[1028.7,10.5,0],
  [1036.0,9.95,0],[1063.9,9.85,0],[1074.2,9.95,0],[1101.4,8.45,0],[1124.0,9.35,0],[1154.8,9.35,0],[1169.5,9.1,0],[1204.1,9.35,0],
  [1210.6,9.25,0],[1225.8,8.85,0],[1227.6,9.25,0],[1247.2,8.85,0],[1250.2,8.95,0],[1254.6,9.1,0],[1258.1,9.35,0],[1273.6,9.25,0],
  [1284.5,8.85,0],[1305.0,9.25,0],[1307.4,8.95,0],[1320.6,9.1,0],[1323.5,8.95,0],[1336.7,8.85,0],[1352.8,8.85,0],[1363.7,8.6,0],
  [1373.4,9.35,0],[1389.5,9.25,0],[1414.4,9.6,0]
];
const radio230 = [
  [652.6,8.0,0],[653.5,8.6,0],[654.4,9.0,0],[664.4,9.25,0],[669.4,9.35,.4],[673.8,9.6,0],[688.4,8.6,1.0],[706.0,9.45,1.2],
  [706.6,8.6,0],[712.5,8.75,0],[777.0,7.1,0],[788.2,7.35,0],[789.6,8.75,0],[802.8,9.45,0],[804.3,9.6,0],[810.2,8.85,0],
  [811.6,9.1,0],[819.8,8.95,0],[829.2,8.25,0],[846.8,8.1,0],[848.3,8.6,0],[861.5,8.75,0],[873.2,7.1,0],[876.2,6.85,0],
  [879.1,6.75,0],[890.8,7.35,0],[893.2,7.45,0],[899.0,6.35,0],[904.0,6.75,0],[924.6,5.75,0],[930.4,5.75,0],[965.6,5.25,0],
  [968.6,6.6,0],[972.4,5.85,0],[974.4,6.45,0],[986.2,5.25,0],[989.1,5.25,0],[1004.6,5.85,0],[1078.6,5.95,0],[1154.2,7.85,0],
  [1169.5,9.75,0],[1171.0,9.95,0],[1205.3,8.6,0],[1209.1,8.35,0],[1211.1,7.35,.5],[1234.0,9.35,0],[1234.6,8.75,0],[1273.6,9.95,0],
  [1282.4,10.45,0],[1284.5,9.75,0],[1290.3,9.45,0],[1292.1,9.75,0],[1299.1,10.45,0],[1313.2,10.1,0],[1332.3,9.25,0],[1333.2,8.75,0],
  [1337.3,7.95,0],[1344.9,8.75,0]
];

// Axis set-up shared by all panels
const mjdDomain = [650, 1420];
const mjdMajor = [700, 800, 900, 1000, 1100, 1200, 1300, 1400];
const mjdMinor = d3.range(660, 1420, 20).filter(v => v % 100 !== 0);

const COLORS = { red: "#ff0000", blue: "#0000ff", magenta: "#ff00ff", green: "#00ee00", orange: "#ffa500", black: "#000" };

const page = document.getElementById("page");
const W = 999, ML = 73, MR = 49;
const innerW = W - ML - MR;

// series helpers: dots with vertical error bars
function errorBars(data, color, sw = 1.4) {
  return Plot.ruleX(data.filter(d => d[2] > 0), {
    x: d => d[0], y1: d => d[1] - d[2], y2: d => d[1] + d[2], stroke: color, strokeWidth: sw
  });
}
function dots(data, color, r) {
  return Plot.dot(data, { x: d => d[0], y: d => d[1], r, fill: color, stroke: "none" });
}

function panel({ top, bottom, yDomain, yMajor, yMajorLabels, yMinor, marks, last = false }) {
  const mt = 10, mb = last ? 56 : 10;
  const innerH = bottom - top;
  const tickMarks = [
    // inward ticks on all four sides of the frame
    Plot.tickX(mjdMajor, { x: d => d, insetTop: innerH - 8, stroke: "#000", strokeWidth: 1.5 }),
    Plot.tickX(mjdMinor, { x: d => d, insetTop: innerH - 4.5, stroke: "#000", strokeWidth: 1.5 }),
    Plot.tickX(mjdMajor, { x: d => d, insetBottom: innerH - 8, stroke: "#000", strokeWidth: 1.5 }),
    Plot.tickX(mjdMinor, { x: d => d, insetBottom: innerH - 4.5, stroke: "#000", strokeWidth: 1.5 }),
    Plot.tickY(yMajor, { y: d => d, insetRight: innerW - 8, stroke: "#000", strokeWidth: 1.5 }),
    Plot.tickY(yMinor, { y: d => d, insetRight: innerW - 4.5, stroke: "#000", strokeWidth: 1.5 }),
    Plot.tickY(yMajor, { y: d => d, insetLeft: innerW - 8, stroke: "#000", strokeWidth: 1.5 }),
    Plot.tickY(yMinor, { y: d => d, insetLeft: innerW - 4.5, stroke: "#000", strokeWidth: 1.5 }),
    Plot.text(yMajor, {
      y: d => d, text: (d, i) => yMajorLabels[i], frameAnchor: "left", textAnchor: "end", dx: -6,
      fontSize: 15, fontWeight: "bold", fontFamily: "Liberation Serif", fill: "#000"
    })
  ];
  if (last) {
    tickMarks.push(Plot.text(mjdMajor, {
      x: d => d, text: d => String(d), frameAnchor: "bottom", lineAnchor: "top", dy: 8,
      fontSize: 18, fontWeight: "bold", fontFamily: "Liberation Serif", fill: "#000"
    }));
  }
  const chart = Plot.plot({
    width: W, height: innerH + mt + mb,
    marginLeft: ML, marginRight: MR, marginTop: mt, marginBottom: mb,
    x: { domain: mjdDomain, axis: null },
    y: { domain: yDomain, axis: null },
    style: { background: "transparent", overflow: "visible", fontFamily: "Liberation Serif" },
    marks: [...marks, ...tickMarks, Plot.frame({ stroke: "#000", strokeWidth: 2 })]
  });
  chart.classList.add("panel");
  chart.style.top = (top - mt) + "px";
  page.appendChild(chart);
}

const B = [9, 142, 275, 407, 538, 670, 802];

// (a) gamma rays
panel({
  top: B[0], bottom: B[1], yDomain: [0, 13],
  yMajor: [0, 5, 10], yMajorLabels: ["0", "5", "10"], yMinor: d3.range(1, 13).filter(v => v % 5),
  marks: [errorBars(gamma, COLORS.red), dots(gamma, COLORS.red, 3.5)]
});

// (b) X-rays
panel({
  top: B[1], bottom: B[2], yDomain: [0, 20],
  yMajor: [0, 5, 10, 15], yMajorLabels: ["0", "5", "10", "15"], yMinor: d3.range(1, 20).filter(v => v % 5),
  marks: [errorBars(xray, COLORS.blue, 1.3), dots(xray, COLORS.blue, 3.1)]
});

// (c) optical
panel({
  top: B[2], bottom: B[3], yDomain: [0, 3.95],
  yMajor: [0, 1, 2, 3], yMajorLabels: ["0", "1", "2", "3"],
  yMinor: d3.range(0.2, 3.95, 0.2).filter(v => Math.abs(v - Math.round(v)) > 0.05),
  marks: [
    errorBars(rBand, COLORS.red, 1.2), dots(rBand, COLORS.red, 2.6),
    dots(vBand, COLORS.blue, 3.1),
    dots(w2Band, COLORS.magenta, 3.1)
  ]
});

// (d) polarization degree
panel({
  top: B[3], bottom: B[4], yDomain: [0, 45],
  yMajor: [0, 10, 20, 30, 40], yMajorLabels: ["0", "10", "20", "30", "40"],
  yMinor: d3.range(2, 45, 2).filter(v => v % 10),
  marks: [errorBars(polDegree, COLORS.black, 1.6), dots(polDegree, COLORS.black, 3.3)]
});

// (e) polarization angle
panel({
  top: B[4], bottom: B[5], yDomain: [-170, 135],
  yMajor: [-100, 0, 100], yMajorLabels: ["\u2212100", "0", "100"],
  yMinor: d3.range(-160, 135, 20).filter(v => v % 100),
  marks: [
    Plot.ruleY(angleRefs, { y: d => d, stroke: "#444", strokeWidth: 1.3, strokeDasharray: "11,8" }),
    errorBars(polAngle, COLORS.black, 1.6), dots(polAngle, COLORS.black, 3.5)
  ]
});

// (f) radio
panel({
  top: B[5], bottom: B[6], yDomain: [2.3, 22.1], last: true,
  yMajor: [5, 10, 15, 20], yMajorLabels: ["5", "10", "15", "20"],
  yMinor: d3.range(3, 23, 1).filter(v => v % 5 && v <= 22),
  marks: [
    dots(radio5, COLORS.green, 3.6),
    errorBars(radio15, COLORS.blue, 1.3), dots(radio15, COLORS.blue, 3.3),
    errorBars(radio37, COLORS.orange, 1.3), dots(radio37, COLORS.orange, 3.4),
    errorBars(radio230, COLORS.magenta, 1.3), dots(radio230, COLORS.magenta, 3.6)
  ]
});

// ---------------------------------------------------------------------------
// Titles, annotations and band labels
// ---------------------------------------------------------------------------
const overlay = d3.select("#page").append("svg").attr("id", "labels").attr("width", W).attr("height", 857);

function label(str, x, y, o = {}) {
  const t = overlay.append("text")
    .attr("x", x).attr("y", y).text(str)
    .attr("font-family", o.family || "Liberation Serif")
    .attr("font-size", o.size || 16)
    .attr("font-weight", o.weight || "normal")
    .attr("fill", o.fill || "#000")
    .attr("text-anchor", o.anchor || "start");
  if (o.length) t.attr("textLength", o.length).attr("lengthAdjust", "spacingAndGlyphs");
  if (o.rotate) t.attr("transform", `rotate(${o.rotate},${x},${y})`).attr("dominant-baseline", "central");
  return t;
}

// flux multiplier written as one text with a raised exponent
function multiplier(x, y, exponent, tail) {
  const t = overlay.append("text").attr("x", x).attr("y", y)
    .attr("font-family", "Liberation Mono").attr("font-weight", "bold").attr("fill", "#000");
  t.append("tspan").attr("font-size", 14).attr("letter-spacing", -0.8).text("[x 10");
  t.append("tspan").attr("font-size", 9.5).attr("dy", -7).attr("dx", 1).text(exponent);
  t.append("tspan").attr("font-size", 14).attr("dy", 7).text(tail);
}

// y-axis titles
const yTitles = [
  ["[ph/cm\u00b2/s]", 76, 102], ["[erg/cm\u00b2/s]", 214, 118], ["[mJy]", 341, 48],
  ["PD [%]", 473.5, 57], ["EVPA [degree]", 605.5, 125], ["[Jy]", 737.5, 31]
];
yTitles.forEach(([s, cy, len]) => label(s, 22.5, cy, { family: "DejaVu Serif", size: 19, anchor: "middle", rotate: -90, length: len }));

// panel letters
["a", "b", "c", "d", "e", "f"].forEach((s, i) => label(s, 81, B[i] + 21.5, { family: "Liberation Sans", weight: "bold", size: 21 }));

// flux multipliers
multiplier(79, 46, "-7", " ]");
multiplier(79, 187, "-12", "]");

// series annotations
label("E>200 MeV (Fermi-LAT)", 587, 62, { family: "Liberation Mono", size: 20.5, fill: COLORS.red, length: 259 });
label("X-ray [2-10 keV]", 587, 176, { family: "Liberation Mono", size: 20.5, fill: COLORS.blue, length: 193 });
label("R band", 598, 307, { family: "Liberation Mono", size: 20.5, fill: COLORS.red, length: 75 });
label("V band", 598, 331, { family: "Liberation Mono", size: 20.5, fill: COLORS.blue, length: 75 });
label("W2 band", 598, 354, { family: "Liberation Mono", size: 20.5, fill: COLORS.magenta, length: 88 });
label("Polarization degree", 598, 451, { family: "DejaVu Serif", size: 18, length: 212 });
label("Polarization angle", 598, 561, { family: "DejaVu Serif", size: 18, length: 197 });
label("5 GHz", 438, 697, { family: "Liberation Mono", size: 17.5, fill: COLORS.green, length: 54 });
label("15 GHz", 509, 697, { family: "Liberation Mono", size: 17.5, fill: COLORS.blue, length: 62 });
label("37 GHz", 582, 697, { family: "Liberation Mono", size: 17.5, fill: COLORS.orange, length: 63 });
label("230 GHz", 655, 697, { family: "Liberation Mono", size: 17.5, fill: COLORS.magenta, length: 75 });

// band names on the right
label("\u03b3", 881, 90, { family: "DejaVu Sans", weight: "bold", size: 58, anchor: "middle" });
label("X-ray", 818, 200, { family: "Liberation Sans", weight: "bold", size: 44, length: 119 });
label("optical", 833, 346, { family: "Liberation Sans", weight: "bold", size: 46, length: 154 });
label("PA", 835, 468, { family: "Liberation Sans", weight: "bold", size: 48, length: 60 });
label("PD", 818, 632, { family: "Liberation Sans", weight: "bold", size: 50, length: 62 });
label("radio", 882, 765, { family: "Liberation Sans", weight: "bold", size: 46, length: 115 });

// x-axis title
label("[MJD \u2013 54000]", 423, 851, { family: "DejaVu Serif", size: 22, length: 177 });
</script>
</body>
</html>
